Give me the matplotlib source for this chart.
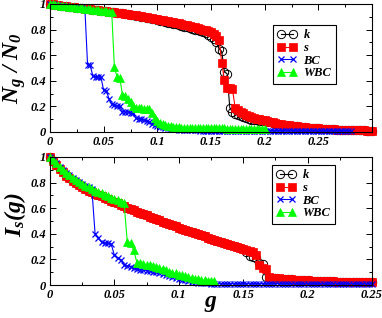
import numpy as np
import matplotlib
matplotlib.use("Agg")
import matplotlib.pyplot as plt
from matplotlib.ticker import MultipleLocator, FormatStrFormatter, FixedLocator

plt.rcParams['font.family'] = ['Liberation Serif', 'DejaVu Serif']
plt.rcParams['font.weight'] = 'bold'
plt.rcParams['font.style'] = 'italic'
plt.rcParams['mathtext.fontset'] = 'custom'
plt.rcParams['mathtext.rm'] = 'Liberation Serif:bold:italic'
plt.rcParams['mathtext.it'] = 'Liberation Serif:bold:italic'
plt.rcParams['mathtext.bf'] = 'Liberation Serif:bold:italic'

STEP = 0.0025

# ---------------- top panel: N_g / N_0 ----------------
s_top = [
    1.000, 0.997, 0.994, 0.991, 0.988, 0.985, 0.982, 0.979,
    0.976, 0.973, 0.971, 0.968, 0.966, 0.963, 0.961, 0.958,
    0.956, 0.953, 0.951, 0.948, 0.946, 0.943, 0.940, 0.938,
    0.935, 0.932, 0.929, 0.926, 0.923, 0.920, 0.917, 0.914,
    0.911, 0.907, 0.904, 0.900, 0.897, 0.893, 0.889, 0.885,
    0.881, 0.877, 0.873, 0.869, 0.865, 0.861, 0.857, 0.853,
    0.849, 0.844, 0.839, 0.834, 0.829, 0.824, 0.818, 0.812,
    0.806, 0.800, 0.793, 0.786, 0.778, 0.765, 0.748, 0.720,
    0.540, 0.410, 0.345, 0.340, 0.335, 0.190, 0.170, 0.160,
    0.150, 0.135, 0.125, 0.118, 0.110, 0.105, 0.100, 0.097,
    0.094, 0.088, 0.082, 0.076, 0.071, 0.066, 0.062, 0.058,
    0.055, 0.052, 0.049, 0.046, 0.043, 0.041, 0.039, 0.037,
    0.035, 0.033, 0.031, 0.029, 0.028, 0.026, 0.025, 0.024,
    0.022, 0.021, 0.020, 0.019, 0.018, 0.017, 0.016, 0.015,
    0.015, 0.014, 0.013, 0.013, 0.012, 0.012, 0.011, 0.011,
    0.010,
]
k_top = [
    1.000, 0.997, 0.994, 0.991, 0.988, 0.985, 0.982, 0.979,
    0.976, 0.973, 0.971, 0.968, 0.966, 0.963, 0.961, 0.958,
    0.956, 0.953, 0.951, 0.948, 0.946, 0.943, 0.940, 0.938,
    0.935, 0.932, 0.929, 0.926, 0.923, 0.920, 0.917, 0.914,
    0.910, 0.906, 0.902, 0.898, 0.894, 0.890, 0.885, 0.880,
    0.875, 0.870, 0.865, 0.860, 0.855, 0.850, 0.845, 0.840,
    0.835, 0.830, 0.824, 0.818, 0.812, 0.806, 0.800, 0.793,
    0.786, 0.778, 0.770, 0.760, 0.745, 0.730, 0.700, 0.650,
    0.630, 0.470, 0.455, 0.190, 0.155, 0.140, 0.130, 0.122,
    0.115, 0.108, 0.100, 0.095, 0.092, 0.090, 0.088, 0.086,
    0.084, 0.080, 0.075, 0.070, 0.066, 0.062, 0.058, 0.055,
    0.052, 0.049, 0.047, 0.045, 0.043, 0.041, 0.039, 0.037,
    0.035, 0.033, 0.031, 0.029, 0.028, 0.026, 0.025, 0.024,
    0.022, 0.021, 0.020, 0.019, 0.018, 0.017, 0.016, 0.015,
    0.015, 0.014, 0.013, 0.013, 0.012, 0.012, 0.011, 0.011,
    0.010,
]
bc_top = [
    1.000, 0.997, 0.994, 0.991, 0.988, 0.985, 0.982, 0.979,
    0.976, 0.973, 0.971, 0.968, 0.966, 0.963, 0.525, 0.520,
    0.435, 0.432, 0.430, 0.427, 0.325, 0.320, 0.260, 0.215,
    0.212, 0.205, 0.200, 0.160, 0.157, 0.155, 0.150, 0.145,
    0.108, 0.105, 0.100, 0.095, 0.085, 0.078, 0.065, 0.055,
    0.048, 0.042, 0.038, 0.034, 0.030, 0.026, 0.023, 0.020,
    0.018, 0.017, 0.016, 0.015, 0.014, 0.013, 0.012, 0.012,
    0.011, 0.011, 0.011, 0.010, 0.010, 0.010, 0.010, 0.010,
    0.010, 0.010, 0.010, 0.010, 0.010, 0.010, 0.010, 0.010,
    0.010, 0.010, 0.010, 0.010, 0.010, 0.010, 0.010, 0.010,
    0.010, 0.010, 0.010, 0.010, 0.010, 0.010, 0.010, 0.010,
    0.010, 0.010, 0.010, 0.010, 0.010, 0.010, 0.010, 0.010,
    0.010, 0.010, 0.010, 0.010, 0.010, 0.010, 0.010, 0.010,
    0.010, 0.010, 0.010, 0.010, 0.010, 0.010, 0.010, 0.010,
    0.010,
]
wbc_top = [
    1.000, 0.997, 0.994, 0.991, 0.988, 0.985, 0.982, 0.979,
    0.976, 0.973, 0.971, 0.968, 0.966, 0.963, 0.961, 0.958,
    0.956, 0.953, 0.951, 0.948, 0.946, 0.943, 0.940, 0.938,
    0.505, 0.430, 0.425, 0.290, 0.280, 0.255, 0.235, 0.200,
    0.190, 0.185, 0.185, 0.183, 0.180, 0.178, 0.150, 0.110,
    0.085, 0.070, 0.060, 0.052, 0.047, 0.043, 0.040, 0.038,
    0.036, 0.035, 0.034, 0.033, 0.032, 0.032, 0.031, 0.031,
    0.030, 0.030, 0.030, 0.029, 0.029, 0.029, 0.028, 0.028,
    0.028, 0.028, 0.027, 0.027, 0.027, 0.027, 0.026, 0.026,
    0.026, 0.026, 0.026, 0.025, 0.025, 0.025, 0.025, 0.025,
    0.025,
]

# ---------------- bottom panel: I_s(g) ----------------
s_bot = [
    1.000, 0.965, 0.935, 0.905, 0.880, 0.855, 0.835, 0.815,
    0.797, 0.780, 0.765, 0.750, 0.737, 0.725, 0.713, 0.703,
    0.693, 0.682, 0.671, 0.660, 0.649, 0.638, 0.627, 0.616,
    0.605, 0.594, 0.584, 0.574, 0.564, 0.554, 0.544, 0.534,
    0.524, 0.514, 0.504, 0.494, 0.485, 0.476, 0.467, 0.458,
    0.449, 0.440, 0.431, 0.422, 0.413, 0.404, 0.395, 0.387,
    0.379, 0.371, 0.363, 0.355, 0.347, 0.339, 0.331, 0.323,
    0.315, 0.307, 0.299, 0.291, 0.283, 0.275, 0.267, 0.258,
    0.236, 0.156, 0.130, 0.125, 0.062, 0.057, 0.055, 0.052,
    0.050, 0.048, 0.046, 0.044, 0.042, 0.041, 0.040, 0.038,
    0.036, 0.035, 0.034, 0.033, 0.031, 0.030, 0.029, 0.028,
    0.028, 0.027, 0.026, 0.026, 0.025, 0.024, 0.024, 0.023,
    0.022, 0.022, 0.021, 0.021, 0.020,
]
k_bot = [
    1.000, 0.965, 0.935, 0.905, 0.880, 0.855, 0.835, 0.815,
    0.797, 0.780, 0.765, 0.750, 0.737, 0.725, 0.713, 0.703,
    0.693, 0.682, 0.671, 0.660, 0.649, 0.638, 0.627, 0.616,
    0.605, 0.594, 0.584, 0.574, 0.564, 0.554, 0.544, 0.534,
    0.524, 0.514, 0.504, 0.494, 0.485, 0.476, 0.467, 0.458,
    0.449, 0.440, 0.431, 0.422, 0.413, 0.404, 0.395, 0.387,
    0.379, 0.371, 0.363, 0.355, 0.347, 0.339, 0.331, 0.323,
    0.315, 0.307, 0.299, 0.291, 0.280, 0.255, 0.230, 0.220,
    0.212, 0.175, 0.165, 0.060, 0.055, 0.053, 0.051, 0.049,
    0.047, 0.046, 0.044, 0.043, 0.042, 0.041, 0.040, 0.038,
    0.036, 0.035, 0.034, 0.033, 0.031, 0.030, 0.029, 0.028,
    0.028, 0.027, 0.026, 0.026, 0.025, 0.024, 0.024, 0.023,
    0.022, 0.022, 0.021, 0.021, 0.020,
]
bc_bot = [
    1.000, 0.975, 0.950, 0.925, 0.900, 0.877, 0.856, 0.837,
    0.820, 0.804, 0.789, 0.775, 0.762, 0.750, 0.400, 0.370,
    0.335, 0.330, 0.325, 0.320, 0.232, 0.210, 0.195, 0.160,
    0.150, 0.140, 0.130, 0.125, 0.120, 0.117, 0.113, 0.110,
    0.105, 0.100, 0.095, 0.088, 0.075, 0.068, 0.062, 0.055,
    0.048, 0.042, 0.037, 0.032, 0.027, 0.022, 0.018, 0.015,
    0.013, 0.012, 0.011, 0.010, 0.010, 0.010, 0.010, 0.010,
    0.010, 0.010, 0.010, 0.010, 0.010, 0.010, 0.010, 0.010,
    0.010, 0.010, 0.010, 0.010, 0.010, 0.010, 0.010, 0.010,
    0.010, 0.010, 0.010, 0.010, 0.010, 0.010, 0.010, 0.010,
    0.010, 0.010, 0.010, 0.010, 0.010, 0.010, 0.010, 0.010,
    0.010, 0.010, 0.010, 0.010, 0.010, 0.010, 0.010, 0.010,
    0.010, 0.010, 0.010, 0.010, 0.010,
]
wbc_bot = [
    1.000, 0.975, 0.950, 0.925, 0.900, 0.877, 0.856, 0.837,
    0.820, 0.804, 0.789, 0.775, 0.762, 0.750, 0.738, 0.726,
    0.715, 0.704, 0.693, 0.682, 0.672, 0.662, 0.652, 0.643,
    0.335, 0.330, 0.270, 0.175, 0.170, 0.165, 0.160, 0.155,
    0.148, 0.140, 0.132, 0.125, 0.115, 0.105, 0.097, 0.090,
    0.082, 0.075, 0.068, 0.061, 0.055, 0.050, 0.045, 0.040,
    0.036, 0.034, 0.032, 0.030,
]

series_labels = ['k', 's', 'BC', 'WBC']
styles = {
    'k':   dict(color='black', marker='o', mfc='none', mec='black', ms=6.0, mew=0.7, lw=0.8),
    's':   dict(color='#ff0000', marker='s', mfc='#ff0000', mec='#ff0000', ms=5.8, mew=0.5, lw=0.8),
    'BC':  dict(color='#0000ff', marker='x', mfc='#0000ff', mec='#0000ff', ms=4.0, mew=0.9, lw=0.8),
    'WBC': dict(color='#00ff00', marker='^', mfc='#00ff00', mec='#00ff00', ms=5.8, mew=0.5, lw=0.8),
}

def grid(vals):
    return np.arange(len(vals)) * STEP

fig = plt.figure(figsize=(3.82, 3.18), dpi=100)
W, H = 382.0, 318.0
ax1 = fig.add_axes([50 / W, 1 - 132 / H, 322 / W, 128 / H])
ax2 = fig.add_axes([50 / W, 1 - 285 / H, 322 / W, 128 / H])

top_data = {'k': k_top, 's': s_top, 'BC': bc_top, 'WBC': wbc_top}
bot_data = {'k': k_bot, 's': s_bot, 'BC': bc_bot, 'WBC': wbc_bot}

for ax, data, xmax in ((ax1, top_data, 0.3), (ax2, bot_data, 0.25)):
    for lab in series_labels:
        v = data[lab]
        ax.plot(grid(v), v, label=lab, clip_on=False, **styles[lab])
    ax.set_xlim(0, xmax)
    ax.set_ylim(0, 1)
    ax.xaxis.set_major_locator(FixedLocator([0, 0.05, 0.1, 0.15, 0.2, 0.25]))
    ax.xaxis.set_minor_locator(MultipleLocator(0.025))
    ax.yaxis.set_major_locator(MultipleLocator(0.2))
    ax.yaxis.set_minor_locator(MultipleLocator(0.1))
    ax.xaxis.set_major_formatter(FormatStrFormatter('%g'))
    ax.yaxis.set_major_formatter(FormatStrFormatter('%g'))
    ax.tick_params(which='both', direction='in', top=True, right=True,
                   labelsize=9, width=0.7, pad=3)
    ax.tick_params(which='major', length=4)
    ax.tick_params(which='minor', length=2.5)
    for sp in ax.spines.values():
        sp.set_linewidth(0.8)
    for t in ax.get_xticklabels() + ax.get_yticklabels():
        t.set_fontweight('bold')
        t.set_fontstyle('italic')

leg_kw = dict(loc='upper left', numpoints=2, fontsize=9, frameon=True, fancybox=False,
              edgecolor='black', framealpha=1, handlelength=1.6, handletextpad=0.5,
              labelspacing=0.05, borderpad=0.35, borderaxespad=0)
l1 = ax1.legend(bbox_to_anchor=(0.692, 0.836), **leg_kw)
l2 = ax2.legend(bbox_to_anchor=(0.689, 0.9375), **leg_kw)
for l in (l1, l2):
    l.get_frame().set_linewidth(0.8)

ax1.set_ylabel(r'$N_g\ /\ N_0$', fontsize=17)
ax2.set_ylabel(r'$I_s(g)$', fontsize=17)
ax1.yaxis.set_label_coords(-0.068, 0.5)
ax2.yaxis.set_label_coords(-0.068, 0.55)
ax2.set_xlabel(r'$g$', fontsize=17, va='top')
ax2.xaxis.set_label_coords(0.5, -0.06)

fig.savefig('out.png', dpi=100)
